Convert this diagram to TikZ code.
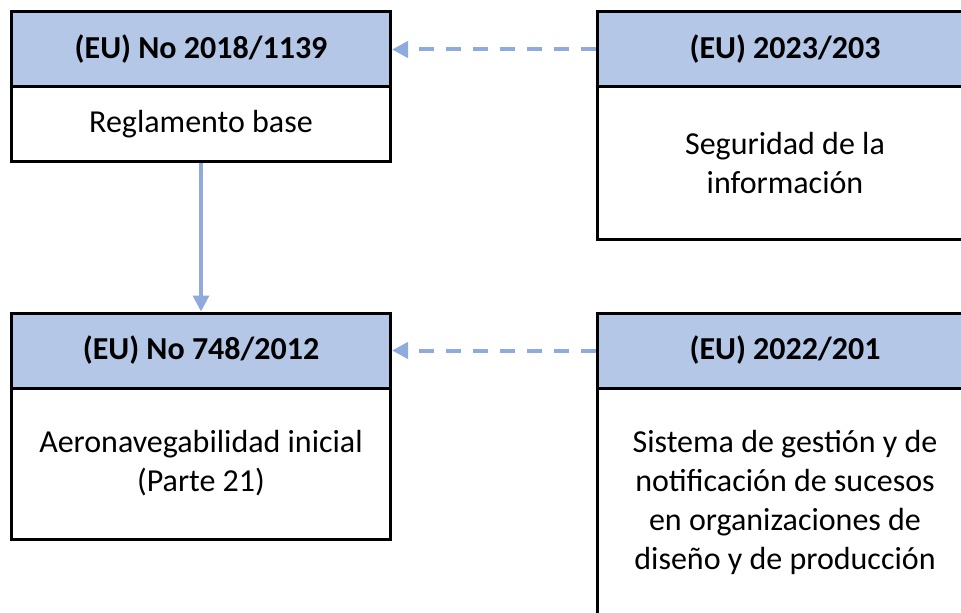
\documentclass[tikz,border=0pt]{standalone}
\usepackage{fontspec}
\setmainfont{Carlito}
\usetikzlibrary{arrows.meta}
\definecolor{hdrfill}{HTML}{B4C7E7}
\definecolor{arrcol}{HTML}{8FAADC}
\tikzset{
  boxbase/.style={draw=black, line width=2.25pt, inner sep=0pt, align=center, font=\fontsize{24pt}{29.25pt}\selectfont},
  hdrbox/.style={boxbase, fill=hdrfill, font=\fontsize{24pt}{29.25pt}\selectfont\bfseries},
  bodybox/.style={boxbase, fill=white},
  link/.style={draw=arrcol, line width=2.4pt, -{Triangle[length=12pt,width=12pt]}},
  dashlink/.style={link, line width=3pt, dash pattern=on 11.25pt off 9pt},
}
\begin{document}
\begin{tikzpicture}[x=0.75pt,y=-0.75pt]
\useasboundingbox (0,0) rectangle (961,613);
\clip (0,0) rectangle (961,613);
% top-left
\node[bodybox, minimum width=284.25pt, minimum height=56.25pt] (b1) at (201,124.5) {\raisebox{-2.5pt}{Reglamento base}};
\node[hdrbox, minimum width=284.25pt, minimum height=56.25pt] (h1) at (201,49.5) {(EU) No 2018/1139};
% top-right
\node[bodybox, minimum width=282pt, minimum height=114.75pt] (b2) at (785,163.5) {Seguridad de la\\información};
\node[hdrbox, minimum width=282pt, minimum height=56.25pt] (h2) at (785,49.5) {(EU) 2023/203};
% bottom-left
\node[bodybox, minimum width=284.25pt, minimum height=113.25pt] (b3) at (201,463.5) {Aeronavegabilidad inicial\\(Parte 21)};
\node[hdrbox, minimum width=284.25pt, minimum height=56.25pt] (h3) at (201,350.5) {(EU) No 748/2012};
% bottom-right
\node[bodybox, minimum width=282pt, minimum height=171pt] (b4) at (785,502) {Sistema de gestión y de\\notificación de sucesos\\en organizaciones de\\diseño y de producción};
\node[hdrbox, minimum width=282pt, minimum height=56.25pt] (h4) at (785,350.5) {(EU) 2022/201};
% connectors
\draw[dashlink] (h2.west) -- (h1.east);
\draw[dashlink] (h4.west) -- (h3.east);
\draw[link] (b1.south) -- (h3.north);
\end{tikzpicture}
\end{document}
